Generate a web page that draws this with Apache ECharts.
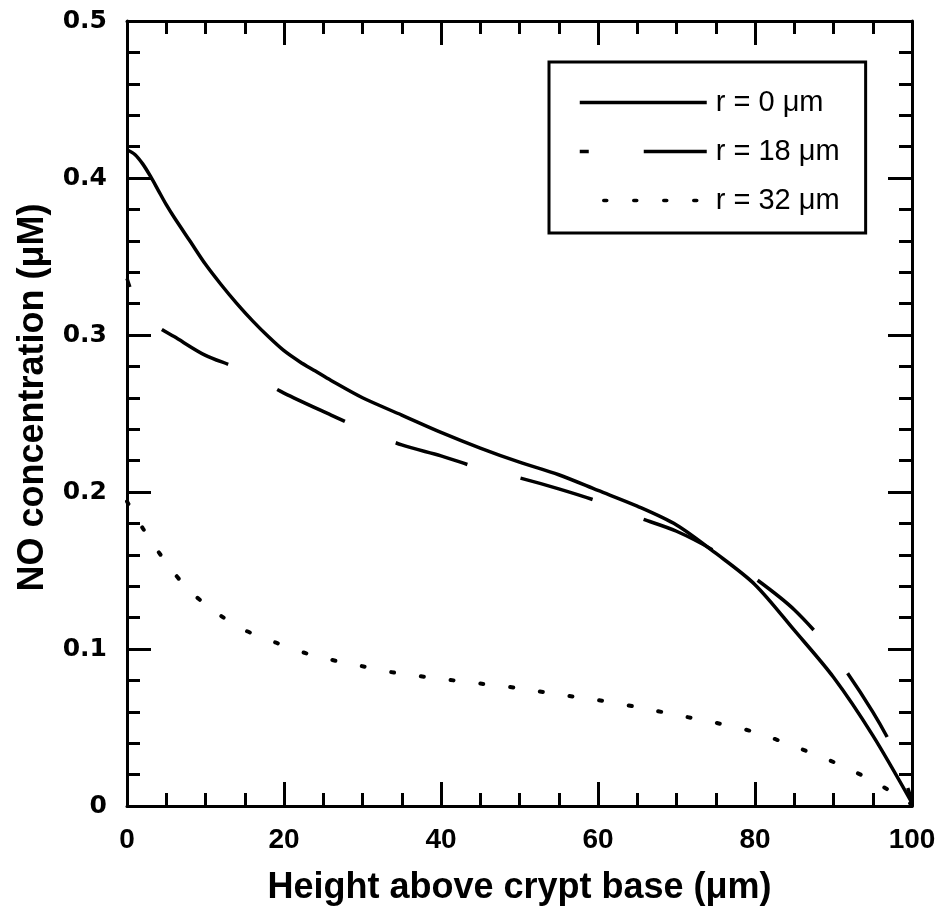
<!DOCTYPE html>
<html>
<head>
<meta charset="utf-8">
<script src="https://cdn.jsdelivr.net/npm/echarts@6/dist/echarts.min.js"></script>
<style>html,body{margin:0;padding:0;background:#fff}#c{width:939px;height:915px}</style>
</head>
<body>
<div id="c"></div>
<script>
const seriesNames = ['r = 0 \u03bcm', 'r = 18 \u03bcm', 'r = 32 \u03bcm'];
const xTicks = [0, 20, 40, 60, 80, 100];
const yTicks = [0, 0.1, 0.2, 0.3, 0.4, 0.5];

const r0X = [0, 1, 2, 3, 4, 5, 6, 8, 10, 12, 14, 16, 18, 20, 22, 24, 26, 30, 35, 40, 45, 50, 55, 60, 65, 70, 75, 80, 85, 90, 95, 100];
const r0Y = [0.418, 0.415, 0.409, 0.401, 0.392, 0.383, 0.375, 0.360, 0.345, 0.332, 0.320, 0.309, 0.299, 0.290, 0.283, 0.277, 0.271, 0.260, 0.249, 0.238, 0.228, 0.219, 0.211, 0.201, 0.191, 0.179, 0.161, 0.141, 0.112, 0.082, 0.045, 0.002];

const r18X = [0, 1, 2, 4, 6, 10, 14, 20, 26, 30, 35, 40, 45, 50, 55, 60, 65, 70, 75, 80, 85, 90, 95, 98, 100];
const r18Y = [0.336, 0.322, 0.313, 0.305, 0.299, 0.287, 0.279, 0.263, 0.249, 0.240, 0.230, 0.223, 0.215, 0.209, 0.202, 0.194, 0.184, 0.175, 0.162, 0.145, 0.125, 0.097, 0.060, 0.032, 0.003];

const r32X = [0, 2, 5, 8, 12, 15, 19, 23, 27, 30, 34, 40, 45, 50, 55, 60, 65, 70, 75, 80, 85, 90, 95, 100];
const r32Y = [0.194, 0.177, 0.155, 0.137, 0.121, 0.112, 0.104, 0.097, 0.092, 0.089, 0.085, 0.081, 0.078, 0.075, 0.071, 0.0675, 0.063, 0.058, 0.053, 0.047, 0.038, 0.028, 0.016, 0.001];

function pairs(xs, ys) { return xs.map((x, i) => [x, ys[i]]); }

const black = '#000';
function xAxisCfg(pos, showLabel) {
  return {
    type: 'value', position: pos, min: xTicks[0], max: xTicks[xTicks.length - 1], interval: 20,
    axisLine: { show: true, onZero: false, lineStyle: { color: black, width: 3 } },
    axisTick: { show: true, inside: true, length: 24, lineStyle: { color: black, width: 3 } },
    minorTick: { show: true, splitNumber: 4, length: 13, lineStyle: { color: black, width: 3 } },
    splitLine: { show: false }, minorSplitLine: { show: false },
    axisLabel: { show: showLabel, color: black, fontFamily: 'Liberation Sans, Arial, sans-serif', fontWeight: 'bold', fontSize: 28, margin: 20 },
    name: showLabel ? 'Height above crypt base (\u03bcm)' : '',
    nameLocation: 'middle', nameGap: 64,
    nameTextStyle: { color: black, fontFamily: 'Liberation Sans, Arial, sans-serif', fontWeight: 'bold', fontSize: 36 }
  };
}
function yAxisCfg(pos, showLabel) {
  return {
    type: 'value', position: pos, min: yTicks[0], max: yTicks[yTicks.length - 1], interval: 0.1,
    axisLine: { show: true, onZero: false, lineStyle: { color: black, width: 3 } },
    axisTick: { show: true, inside: true, length: 24, lineStyle: { color: black, width: 3 } },
    minorTick: { show: true, splitNumber: 5, length: 13, lineStyle: { color: black, width: 3 } },
    splitLine: { show: false }, minorSplitLine: { show: false },
    axisLabel: { show: showLabel, color: black, fontFamily: 'DejaVu Sans, sans-serif', fontWeight: 'bold', fontSize: 25, margin: 20,
      formatter: v => (v === 0 ? '0' : v.toFixed(1)) },
    name: showLabel ? 'NO concentration (\u03bcM)' : '',
    nameLocation: 'middle', nameGap: 76,
    nameTextStyle: { color: black, fontFamily: 'Liberation Sans, Arial, sans-serif', fontWeight: 'bold', fontSize: 36, padding: [0, 0, 0, 32] }
  };
}

const chart = echarts.init(document.getElementById('c'), null, { renderer: 'canvas' });
chart.setOption({
  animation: false,
  backgroundColor: '#fff',
  grid: { left: 127, right: 27, top: 21, bottom: 109, containLabel: false },
  xAxis: [xAxisCfg('bottom', true), xAxisCfg('top', false)],
  yAxis: [yAxisCfg('left', true), yAxisCfg('right', false)],
  legend: {
    orient: 'vertical', left: 549, top: 62,
    padding: [26, 26, 18, 29],
    itemWidth: 127, itemHeight: 28, itemGap: 20,
    borderColor: black, borderWidth: 3, borderRadius: 0,
    backgroundColor: '#fff',
    itemStyle: { opacity: 0 },
    lineStyle: { width: 3.5 },
    data: seriesNames,
    textStyle: { color: black, fontFamily: 'Liberation Sans, Arial, sans-serif', fontSize: 29, padding: [0, 0, 0, 4], width: 125 }
  },
  series: [
    { name: seriesNames[0], type: 'line', xAxisIndex: 0, yAxisIndex: 0, data: pairs(r0X, r0Y), smooth: 0.3, symbol: 'none',
      lineStyle: { color: black, width: 3.5, type: 'solid' }, itemStyle: { color: black } },
    { name: seriesNames[1], type: 'line', xAxisIndex: 0, yAxisIndex: 0, data: pairs(r18X, r18Y), smooth: 0.3, symbol: 'none',
      lineStyle: { color: black, width: 3.5, type: [75, 55], dashOffset: 66 }, itemStyle: { color: black } },
    { name: seriesNames[2], type: 'line', xAxisIndex: 0, yAxisIndex: 0, data: pairs(r32X, r32Y), smooth: 0.3, symbol: 'none',
      lineStyle: { color: black, width: 4, type: [3, 27], cap: 'round' }, itemStyle: { color: black } }
  ]
});
</script>
</body>
</html>
